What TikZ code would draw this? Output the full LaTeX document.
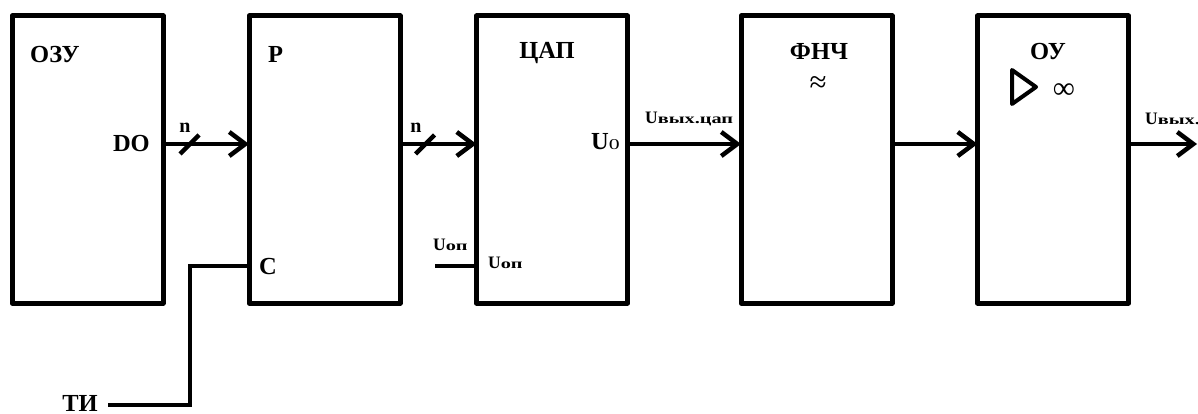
\documentclass[tikz,border=0pt]{standalone}
\usepackage{fontspec}
\setmainfont{Liberation Serif}
\newfontfamily\subf[FakeStretch=1.45]{Liberation Serif}
\usetikzlibrary{arrows.meta,calc}
\begin{document}
\begin{tikzpicture}[x=1pt,y=-1pt,
  blk/.style={draw, line width=5pt, line join=round, minimum width=151pt, minimum height=287pt, inner sep=0pt, outer sep=0pt},
  wire/.style={line width=4.5pt},
  arr/.style={wire, -{Straight Barb[length=16pt,width=24pt]}},
  lbl/.style={font=\bfseries\fontsize{24.5}{24.5}\selectfont, inner sep=0pt},
  nlb/.style={font=\bfseries\fontsize{20}{20}\selectfont, inner sep=0pt},
  sml/.style={font=\bfseries\fontsize{17.5}{17.5}\selectfont, inner sep=0pt},
  sym/.style={font=\fontsize{31}{31}\selectfont, inner sep=0pt}]
\useasboundingbox (0,0) rectangle (1198,414);
% blocks
\node[blk] (ozu) at (87.5,159.5) {};
\node[blk] (reg) at (324.5,159.5) {};
\node[blk] (dac) at (552,159.5) {};
\node[blk] (fnch) at (816.5,159.5) {};
\node[blk] (ou) at (1053,159.5) {};
% helper coordinates
\coordinate (sig) at (0,144);
\coordinate (clk) at (0,266);
\coordinate (s1) at (189.5,144.5);
\coordinate (s2) at (425,144.5);
\coordinate (ckx) at (190,266);
\coordinate (cky) at (190,405);
\coordinate (ti) at (108,405);
\coordinate (uop) at (435,266);
\coordinate (outend) at (1197,144);
% connectors
\draw[arr] (ozu.east |- sig) -- (reg.west |- sig);
\draw[arr] (reg.east |- sig) -- (dac.west |- sig);
\draw[arr] (dac.east |- sig) -- (fnch.west |- sig);
\draw[arr] (fnch.east |- sig) -- (ou.west |- sig);
\draw[arr] (ou.east |- sig) -- (outend);
\draw[wire] ($(s1)+(-9.5,9.5)$) -- ($(s1)+(9.5,-9.5)$);
\draw[wire] ($(s2)+(-9.5,9.5)$) -- ($(s2)+(9.5,-9.5)$);
\draw[wire, line join=miter] (reg.west |- clk) -- (ckx) -- (cky) -- (ti);
\draw[wire] (uop) -- (dac.west |- clk);
% op-amp triangle
\draw[line width=4pt, line join=round] (1012,70) -- (1012,104) -- (1036,87) -- cycle;
% labels
\node[lbl, anchor=base west] (tozu) at (30,63) {ОЗУ};
\node[lbl, anchor=base east] (tdo) at (150,152) {DO};
\node[nlb, anchor=base] (tn1) at (185,133) {n};
\node[lbl, anchor=base west] (treg) at (268,63) {Р};
\node[lbl, anchor=base west] (tc) at (259,274) {С};
\node[nlb, anchor=base] (tn2) at (416,133) {n};
\node[lbl, anchor=base] (tdac) at (547,59) {ЦАП};
\node[lbl, anchor=base east] (tu0) at (620,150) {U{\subf\mdseries\fontsize{15}{15}\selectfont 0}};
\node[sml, anchor=base west] (tuop1) at (433,250) {U{\subf\fontsize{14}{14}\selectfont оп}};
\node[sml, anchor=base west] (tuop2) at (488,268) {U{\subf\fontsize{14}{14}\selectfont оп}};
\node[sml, anchor=base west] (tuvc) at (645,124) {U{\subf\fontsize{14}{14}\selectfont вых.цап}};
\node[lbl, anchor=base] (tfnch) at (819,60) {ФНЧ};
\node[sym] (tapprox) at (818,85) {≈};
\node[lbl, anchor=base] (tou) at (1048,60) {ОУ};
\node[sym] (tinf) at (1064,91) {∞};
\node[sml, anchor=base west] (tuv) at (1145,125) {U{\subf\fontsize{14}{14}\selectfont вых.}};
\node[lbl, anchor=base east] (tti) at (98,411) {ТИ};
\end{tikzpicture}
\end{document}
